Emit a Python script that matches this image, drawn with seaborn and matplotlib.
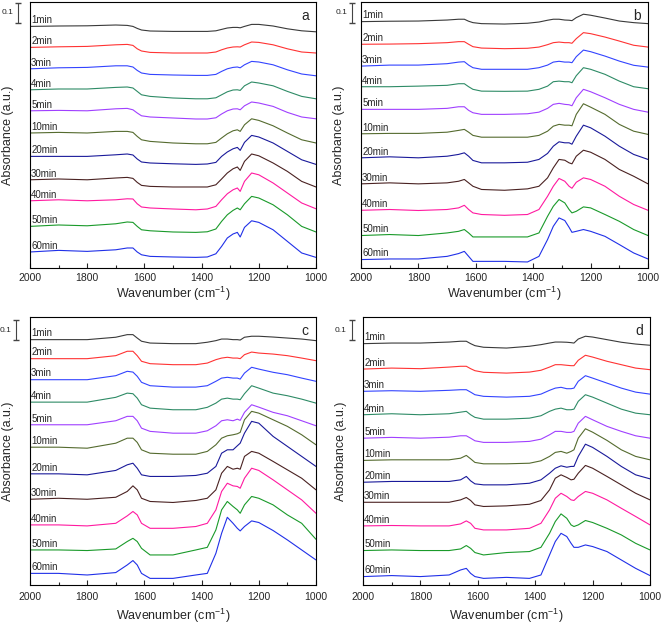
import matplotlib
matplotlib.use("Agg")
import matplotlib.pyplot as plt
import matplotlib.transforms as mtransforms
from matplotlib.ticker import MultipleLocator
import pandas as pd
import seaborn as sns

# =========================
# 1. Style
# =========================
sns.set_theme(style="ticks")
plt.rcParams["font.family"] = ["Liberation Sans", "DejaVu Sans"]
plt.rcParams["mathtext.default"] = "regular"

# =========================
# 2. Data (absorbance)
# =========================
wavenumber = [2000, 1900, 1800, 1700, 1660, 1640, 1625, 1610, 1580, 1500, 1420, 1380, 1350,
              1330, 1310, 1290, 1275, 1265, 1250, 1225, 1200, 1150, 1100, 1050, 1000]
times = ["1min", "2min", "3min", "4min", "5min", "10min", "20min", "30min", "40min", "50min", "60min"]
colors = ["#3a3a3a", "#ff3333", "#3344ff", "#2e8b66", "#a040ff", "#556b2f",
          "#1a1a9a", "#4a2222", "#ff1aa0", "#1a9a2a", "#2030e8"]

panel_a = [
    [0, .002, .003, .007, .005, 0, -.010, -.018, -.023, -.025, -.025, -.025, -.022, -.015, -.008, -.005, -.005, -.007, 0, .010, .010, .002, -.012, -.022, -.027],
    [.010, .013, .015, .023, .025, .020, .003, -.008, -.015, -.018, -.018, -.018, -.013, -.002, .007, .012, .013, .012, .023, .037, .035, .023, .003, -.013, -.018],
    [.018, .023, .025, .033, .033, .027, .010, -.003, -.010, -.013, -.015, -.015, -.010, .005, .018, .025, .027, .023, .038, .055, .052, .038, .013, -.008, -.017],
    [.028, .032, .032, .040, .042, .037, .020, .003, -.005, -.013, -.017, -.017, -.012, .003, .018, .027, .028, .025, .048, .067, .062, .048, .020, -.005, -.017],
    [.038, .040, .038, .048, .050, .043, .027, .013, .007, .002, -.003, -.003, .003, .022, .038, .047, .048, .043, .063, .082, .077, .060, .030, .007, -.002],
    [.042, .045, .042, .050, .050, .045, .025, .008, 0, -.008, -.012, -.012, -.005, .017, .038, .053, .058, .050, .083, .113, .105, .078, .042, .008, -.008],
    [.040, .040, .040, .048, .052, .047, .027, .012, .007, .003, 0, .002, .010, .040, .062, .078, .085, .070, .110, .145, .137, .107, .065, .023, 0],
    [.038, .042, .038, .047, .050, .045, .025, .010, .005, .002, .002, .002, .013, .042, .072, .093, .102, .085, .130, .167, .158, .122, .080, .030, .002],
    [.048, .053, .048, .053, .058, .057, .033, .017, .012, .007, .003, .007, .020, .053, .083, .103, .112, .095, .145, .187, .178, .137, .087, .037, .008],
    [.035, .042, .038, .048, .057, .055, .035, .018, .013, .007, .005, .008, .022, .060, .093, .115, .127, .118, .148, .185, .177, .143, .093, .035, .007],
    [.022, .030, .025, .033, .042, .042, .022, .008, 0, -.003, -.005, -.003, .013, .050, .092, .112, .120, .097, .145, .178, .170, .133, .075, .017, -.005],
]

panel_b = [
    [0, .002, .003, .008, .012, .012, .002, -.005, -.010, -.012, -.008, -.002, .007, .012, .012, .008, .007, .005, .020, .037, .032, .018, .003, -.005, -.010],
    [.002, .003, .005, .010, .015, .015, .002, -.010, -.017, -.020, -.018, -.012, 0, .010, .013, .010, .010, .007, .030, .060, .055, .038, .018, -.003, -.012],
    [.008, .013, .013, .020, .028, .030, .013, 0, -.008, -.008, -.008, 0, .013, .028, .032, .028, .028, .025, .055, .088, .080, .058, .033, .012, .003],
    [.020, .020, .023, .027, .035, .035, .020, .007, -.002, -.003, -.002, .007, .023, .045, .048, .045, .045, .040, .075, .115, .107, .082, .048, .020, .010],
    [.022, .022, .022, .027, .035, .035, .017, .005, -.003, -.003, 0, .008, .027, .047, .052, .047, .045, .040, .080, .122, .110, .080, .047, .022, .008],
    [.015, .017, .017, .023, .032, .037, .023, .007, -.002, -.002, -.002, .007, .028, .053, .062, .058, .058, .055, .112, .165, .148, .112, .062, .028, .012],
    [.010, .015, .010, .018, .027, .035, .018, -.003, -.015, -.015, -.012, .002, .032, .068, .090, .085, .085, .078, .118, .173, .160, .118, .068, .027, .002],
    [-.005, 0, -.005, 0, .008, .017, 0, -.017, -.033, -.037, -.030, -.017, .025, .075, .117, .113, .100, .095, .133, .163, .153, .117, .067, .033, -.005],
    [-.022, -.018, -.023, -.018, -.010, .003, -.018, -.035, -.043, -.047, -.043, -.018, .048, .098, .137, .123, .098, .088, .118, .140, .132, .098, .048, .007, -.022],
    [-.033, -.028, -.033, -.020, -.012, -.003, -.020, -.040, -.040, -.040, -.040, -.020, .063, .113, .147, .130, .097, .080, .088, .110, .105, .072, .038, -.003, -.033],
    [-.038, -.035, -.035, -.022, -.008, .003, -.022, -.047, -.047, -.047, -.050, -.022, .062, .128, .170, .157, .123, .098, .103, .112, .103, .078, .037, -.005, -.035],
]

panel_c = [
    [0, 0, 0, .012, .025, .025, .008, -.008, -.017, -.020, -.020, -.013, -.005, .003, .003, 0, 0, -.002, .012, .017, .017, .013, .008, .003, -.005],
    [.020, .020, .020, .035, .057, .057, .035, .007, -.005, -.010, -.010, -.002, .015, .023, .027, .023, .023, .020, .040, .053, .048, .043, .035, .023, .010],
    [.030, .030, .030, .050, .072, .068, .047, .017, 0, -.007, -.007, 0, .022, .038, .042, .038, .038, .033, .063, .092, .083, .067, .055, .038, .022],
    [.033, .033, .033, .057, .078, .075, .053, .020, .003, -.005, -.005, .007, .028, .048, .053, .048, .048, .045, .075, .115, .103, .078, .065, .048, .028],
    [.035, .035, .035, .055, .077, .077, .055, .018, .002, -.007, -.007, .005, .030, .055, .060, .055, .063, .057, .097, .135, .123, .097, .080, .055, .030],
    [.038, .038, .033, .058, .083, .083, .062, .025, .008, .003, .003, .017, .050, .083, .095, .100, .105, .112, .175, .217, .208, .175, .142, .100, .050],
    [.020, .020, .015, .037, .065, .073, .048, .015, .007, .007, .012, .023, .057, .123, .140, .140, .160, .173, .223, .282, .273, .207, .157, .107, .057],
    [.008, .013, .008, .018, .047, .075, .055, .013, -.003, -.008, .002, .013, .055, .138, .172, .158, .163, .158, .222, .247, .238, .197, .155, .113, .055],
    [-.005, -.005, -.010, .003, .040, .062, .045, .003, -.022, -.022, -.013, .003, .070, .162, .203, .190, .187, .178, .228, .278, .267, .220, .170, .120, .053],
    [-.015, -.015, -.018, -.010, .027, .043, .027, -.007, -.040, -.040, -.015, -.002, .085, .185, .227, .202, .185, .168, .210, .252, .243, .210, .160, .118, .038],
    [-.017, -.017, -.025, -.013, .025, .047, .025, -.017, -.042, -.042, -.025, -.017, .083, .183, .263, .233, .208, .195, .217, .245, .237, .197, .150, .100, .050],
]

panel_d = [
    [0, .003, .003, .008, .012, .012, 0, -.010, -.018, -.022, -.013, -.005, .003, .008, .008, .007, .005, .003, .023, .037, .033, .020, .007, -.002, -.008],
    [-.012, -.007, -.010, -.002, .002, .002, -.010, -.020, -.028, -.032, -.027, -.018, -.002, .010, .010, .007, .005, .005, .032, .057, .048, .027, .010, -.007, -.015],
    [-.008, -.005, -.008, -.003, 0, 0, -.012, -.025, -.033, -.037, -.033, -.022, -.003, .008, .012, .005, .005, .008, .042, .070, .058, .033, .008, -.012, -.022],
    [-.010, -.005, -.010, -.005, .003, .007, -.010, -.023, -.032, -.032, -.027, -.015, .007, .018, .023, .015, .015, .018, .057, .090, .078, .048, .018, -.002, -.010],
    [-.012, -.008, -.012, -.007, 0, 0, -.012, -.025, -.033, -.033, -.028, -.017, .005, .022, .022, .017, .017, .022, .063, .097, .080, .047, .022, 0, -.012],
    [-.008, -.005, -.005, -.005, .003, .017, 0, -.018, -.025, -.025, -.022, -.010, .012, .032, .037, .028, .037, .045, .103, .150, .133, .092, .045, .012, -.005],
    [-.002, .002, .002, .002, .010, .027, .005, -.010, -.015, -.015, -.007, .010, .043, .068, .080, .073, .077, .077, .127, .188, .172, .127, .077, .035, .015],
    [.013, .013, .013, .013, .025, .037, .022, 0, -.008, -.005, .003, .022, .075, .133, .150, .137, .125, .128, .158, .197, .183, .142, .100, .058, .025],
    [.010, .012, .010, .010, .020, .035, .023, -.002, -.010, -.010, -.002, .023, .090, .148, .173, .157, .140, .137, .157, .182, .173, .140, .098, .057, .015],
    [.002, .005, .002, .002, .010, .027, .013, -.008, -.020, -.008, -.003, .018, .088, .147, .185, .163, .130, .122, .130, .152, .142, .113, .080, .038, .005],
    [-.013, -.008, -.013, -.005, .020, .028, .003, -.013, -.022, -.017, -.022, -.005, .095, .162, .203, .187, .153, .133, .133, .145, .137, .112, .070, .028, -.008],
]

# =========================
# 3. Layout
# =========================
STEP = 0.115  # vertical offset between stacked spectra
panels = [
    # letter, data, ylim, axes rect, scale bar x, scale bar gap, tick pad, xlabel y
    ("a", panel_a, (-1.208, 0.122), [0.0452, 0.5726, 0.4314, 0.4242], -0.042, 0.000, 3.5, -0.065),
    ("b", panel_b, (-1.230, 0.098), [0.5445, 0.5726, 0.4329, 0.4242], -0.031, 0.000, 3.5, -0.065),
    ("c", panel_c, (-1.225, 0.113), [0.0452, 0.0670, 0.4314, 0.4274], -0.049, 0.012, 5.0, -0.080),
    ("d", panel_d, (-1.205, 0.133), [0.5475, 0.0670, 0.4329, 0.4274], -0.039, 0.012, 5.0, -0.080),
]

fig = plt.figure(figsize=(6.63, 6.27), dpi=100)

for letter, spectra, ylim, rect, bar_x, bar_gap, pad, xlab_y in panels:
    ax = fig.add_axes(rect)

    rows = []
    for i, (t, vals) in enumerate(zip(times, spectra)):
        for w, v in zip(wavenumber, vals):
            rows.append({"wavenumber": w, "absorbance": v - i * STEP, "time": t})
    df = pd.DataFrame(rows)

    sns.lineplot(data=df, x="wavenumber", y="absorbance", hue="time", hue_order=times,
                 palette=colors, estimator=None, sort=False, linewidth=0.8,
                 legend=False, ax=ax)

    for i, (t, vals) in enumerate(zip(times, spectra)):
        ax.text(1996, vals[0] - i * STEP + 0.006, t, fontsize=7, ha="left", va="bottom")

    ax.set_xlim(2000, 1000)
    ax.set_ylim(*ylim)
    ax.set_yticks([])
    ax.xaxis.set_major_locator(MultipleLocator(200))
    ax.xaxis.set_minor_locator(MultipleLocator(100))
    ax.tick_params(axis="x", which="major", direction="in", length=3.5, width=0.8,
                   labelsize=7.5, pad=pad)
    ax.tick_params(axis="x", which="minor", direction="in", length=2, width=0.8)
    for sp in ax.spines.values():
        sp.set_linewidth(0.8)
        sp.set_color("black")

    ax.set_xlabel("Wavenumber (cm$^{-1}$)", fontsize=9)
    ax.set_ylabel("Absorbance (a.u.)", fontsize=9)
    ax.xaxis.set_label_coords(0.5, xlab_y)
    ax.yaxis.set_label_coords(-0.055, 0.5)

    ax.text(0.975, 0.975, letter, transform=ax.transAxes, ha="right", va="top", fontsize=10)

    # 0.1 absorbance scale bar
    trans = mtransforms.blended_transform_factory(ax.transAxes, ax.transData)
    top = ylim[1] - 0.004 - bar_gap
    ax.plot([bar_x, bar_x], [top, top - 0.1], color="#444444", lw=0.8, marker="_",
            markersize=5, transform=trans, clip_on=False)
    ax.text(bar_x - 0.038, top - 0.05, "0.1", transform=trans, fontsize=6,
            ha="center", va="center")

plt.savefig("out.png", dpi=100)
